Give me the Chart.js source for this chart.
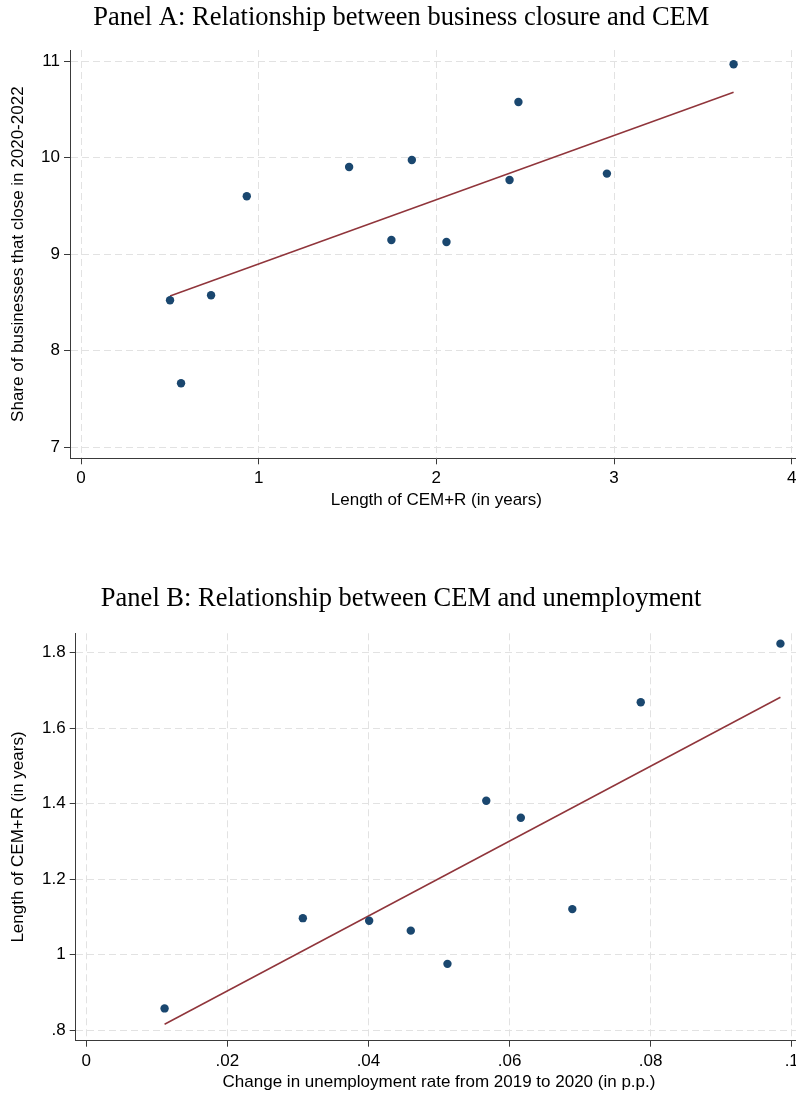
<!DOCTYPE html>
<html>
<head>
<meta charset="utf-8">
<script src="https://cdn.jsdelivr.net/npm/chart.js@4"></script>
<style>
  html, body { margin: 0; padding: 0; background: #fff; overflow: hidden; }
  body { width: 796px; height: 1097px; position: relative; }
  .panel { position: absolute; left: 0; width: 820px; }
  #panelA { top: 0; height: 530px; }
  #panelB { top: 575px; height: 522px; }
</style>
</head>
<body>
<div class="panel" id="panelA"><canvas id="closureChart"></canvas></div>
<div class="panel" id="panelB"><canvas id="unempChart"></canvas></div>
<script>
// Panel A: length of CEM+R vs share of businesses closing
var cemLength = [0.501, 0.563, 0.732, 0.933, 1.509, 1.747, 1.862, 2.057, 2.412, 2.462, 2.960, 3.673];
var closeShare = [8.523, 7.663, 8.575, 9.599, 9.903, 9.147, 9.975, 9.126, 9.768, 10.576, 9.834, 10.966];
var fitAX = [0.501, 3.673];
var fitAY = [8.567, 10.676];

// Panel B: change in unemployment vs length of CEM+R
var unempChange = [0.0111, 0.0307, 0.0401, 0.0460, 0.0512, 0.0567, 0.0616, 0.0689, 0.0786, 0.0984];
var cemLengthB = [0.858, 1.097, 1.090, 1.064, 0.976, 1.408, 1.363, 1.121, 1.669, 1.824];
var fitBX = [0.0111, 0.0984];
var fitBY = [0.816, 1.682];

var navy = '#1a476f';
var maroon = '#90353b';
var sans = "'Liberation Sans', Arial, sans-serif";
var serif = "'Liberation Serif', 'Times New Roman', serif";

function toPoints(xs, ys) {
    var pts = [];
    for (let i = 0; i < xs.length; i++) {
        pts.push({ x: xs[i], y: ys[i] });
    }
    return pts;
}

// stata style: .02 instead of 0.02
function stataLabel(digits) {
    return function (value) {
        return Number(value.toFixed(digits)).toString().replace(/^0\./, '.');
    };
}

function axis(opts) {
    return {
        type: 'linear',
        position: opts.position,
        min: opts.min,
        max: opts.max,
        afterFit: function (scale) {
            if (opts.position == 'left') scale.width = opts.size;
            else scale.height = opts.size;
        },
        ticks: {
            stepSize: opts.step,
            includeBounds: false,
            padding: 4,
            color: '#000',
            font: { family: sans, size: 17 },
            callback: stataLabel(opts.digits)
        },
        grid: {
            color: '#e2e2e2',
            lineWidth: 1,
            tickLength: 6,
            tickColor: '#3a3a3a',
            tickWidth: 1
        },
        border: { display: true, color: '#3a3a3a', width: 1, dash: [7, 4] },
        title: {
            display: true,
            text: opts.title,
            color: '#000',
            font: { family: sans, size: 17 },
            padding: opts.titlePadding
        }
    };
}

function createChart(id, cfg) {
    var ctx = document.getElementById(id).getContext('2d');
    return new Chart(ctx, {
        type: 'scatter',
        data: {
            datasets: [{
                data: toPoints(cfg.xs, cfg.ys),
                backgroundColor: navy,
                borderWidth: 0,
                pointRadius: 4.2,
                pointHoverRadius: 4.2
            }, {
                data: toPoints(cfg.fitX, cfg.fitY),
                showLine: true,
                borderColor: maroon,
                borderWidth: 1.5,
                pointRadius: 0,
                fill: false
            }]
        },
        options: {
            responsive: true,
            maintainAspectRatio: false,
            devicePixelRatio: 1,
            animation: false,
            layout: { padding: { left: 0, right: cfg.padRight, top: 0, bottom: 0 } },
            plugins: {
                legend: { display: false },
                tooltip: { enabled: false },
                title: {
                    display: true,
                    text: cfg.title,
                    color: '#000',
                    font: { family: serif, size: 26.5, weight: 'normal' },
                    padding: cfg.titlePadding
                }
            },
            scales: {
                x: axis(cfg.x),
                y: axis(cfg.y)
            }
        }
    });
}

var closureChart = createChart('closureChart', {
    title: 'Panel A: Relationship between business closure and CEM',
    titlePadding: { top: 2, bottom: 16.2 },
    padRight: 17.3,
    xs: cemLength, ys: closeShare, fitX: fitAX, fitY: fitAY,
    x: { position: 'bottom', min: -0.062, max: 4.062, step: 1, digits: 0, size: 71.7,
         title: 'Length of CEM+R (in years)', titlePadding: { top: 0, bottom: 19.8 } },
    y: { position: 'left', min: 6.886, max: 11.114, step: 1, digits: 0, size: 70,
         title: 'Share of businesses that close in 2020-2022', titlePadding: { top: 8.3, bottom: 0 } }
});

var unempChart = createChart('unempChart', {
    title: 'Panel B: Relationship between CEM and unemployment',
    titlePadding: { top: 8.5, bottom: 18 },
    padRight: 17.7,
    xs: unempChange, ys: cemLengthB, fitX: fitBX, fitY: fitBY,
    x: { position: 'bottom', min: -0.0015, max: 0.1015, step: 0.02, digits: 2, size: 56.3,
         title: 'Change in unemployment rate from 2019 to 2020 (in p.p.)', titlePadding: { top: 0, bottom: 4.8 } },
    y: { position: 'left', min: 0.7725, max: 1.8514, step: 0.2, digits: 1, size: 75.7,
         title: 'Length of CEM+R (in years)', titlePadding: { top: 8.3, bottom: 0 } }
});
</script>
</body>
</html>
